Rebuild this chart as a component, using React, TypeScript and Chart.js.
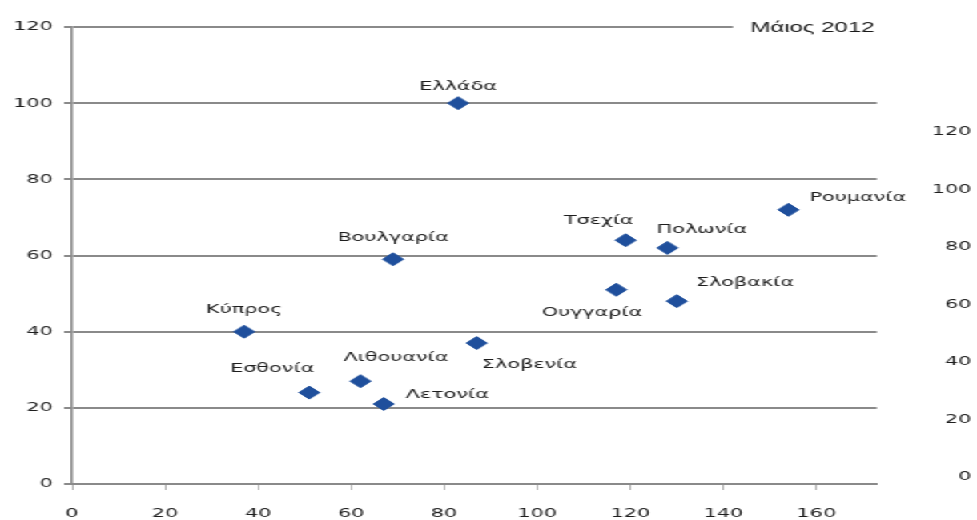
import React, { useEffect, useRef } from "react";
import { Chart, registerables } from "chart.js";

Chart.register(...registerables);

// ---- data ----
const countries = [
  "Ελλάδα",
  "Βουλγαρία",
  "Κύπρος",
  "Εσθονία",
  "Λιθουανία",
  "Λετονία",
  "Σλοβενία",
  "Ουγγαρία",
  "Σλοβακία",
  "Τσεχία",
  "Πολωνία",
  "Ρουμανία",
];
const xValues = [83, 69, 37, 51, 62, 67, 87, 117, 130, 119, 128, 154];
const yValues = [100, 59, 40, 24, 27, 21, 37, 51, 48, 64, 62, 72];
const xTickValues = [0, 20, 40, 60, 80, 100, 120, 140, 160];
const yTickValues = [0, 20, 40, 60, 80, 100, 120];
const rightTickValues = [0, 20, 40, 60, 80, 100, 120];
const titleText = "Μάιος 2012";

// ---- label placement (style only): align, dx (page px), dy (px) ----
const labelPlacement: [CanvasTextAlign, number, number][] = [
  ["center", 0, -17],
  ["center", 0, -22],
  ["center", 0, -22],
  ["right", 5, -24],
  ["left", -17, -24],
  ["left", 22, -9],
  ["left", 5, 22],
  ["right", 26, 23],
  ["left", 19, -19],
  ["right", 8, -20],
  ["left", -11, -18],
  ["left", 21, -12],
];

const PAGE_W = 977;
const INNER_W = 610;
const S = PAGE_W / INNER_W;
const FONT = "'DejaVu Sans', Verdana, sans-serif";
const GRID = "#8a8a8a";
const TEXT = "#1e1e1e";
const BLUE = "#1f4f9c";

const pointLabels = {
  id: "pointLabels",
  afterDatasetsDraw(chart: any) {
    const ctx = chart.ctx;
    const meta = chart.getDatasetMeta(0);
    ctx.save();
    ctx.font = `13px ${FONT}`;
    ctx.fillStyle = TEXT;
    ctx.textBaseline = "middle";
    meta.data.forEach((pt: any, i: number) => {
      const [align, dx, dy] = labelPlacement[i];
      ctx.textAlign = align;
      ctx.fillText(countries[i], pt.x + dx / S, pt.y + dy);
    });
    ctx.restore();
  },
};

const titleBox = {
  id: "titleBox",
  afterDraw(chart: any) {
    const ctx = chart.ctx;
    const area = chart.chartArea;
    ctx.save();
    ctx.fillStyle = "#ffffff";
    ctx.fillRect(733 / S, area.top - 14, area.right + 4 - 733 / S, 30);
    ctx.font = `15px 'Liberation Sans', Arial, sans-serif`;
    ctx.fillStyle = "#1a1a1a";
    ctx.textAlign = "center";
    ctx.textBaseline = "middle";
    ctx.fillText(titleText, 812.5 / S, area.top + 1);
    ctx.restore();
  },
};

export default function App() {
  const ref = useRef<HTMLCanvasElement | null>(null);

  useEffect(() => {
    if (!ref.current) return;
    const chart = new Chart(ref.current, {
      type: "scatter",
      data: {
        datasets: [
          {
            label: "data",
            data: xValues.map((x, i) => ({ x, y: yValues[i] })),
            pointStyle: "rectRot",
            pointRadius: 6.5,
            pointHoverRadius: 6.5,
            backgroundColor: BLUE,
            borderColor: BLUE,
            borderWidth: 1,
          },
        ],
      },
      options: {
        animation: false,
        responsive: true,
        maintainAspectRatio: false,
        events: [],
        layout: { padding: { top: 27, right: 3.5, bottom: 0, left: 0 } },
        plugins: {
          legend: { display: false },
          tooltip: { enabled: false },
          title: { display: false },
        },
        scales: {
          x: {
            type: "linear",
            position: "bottom",
            min: 0,
            max: 173,
            afterBuildTicks: (s: any) => {
              s.ticks = xTickValues.map((v) => ({ value: v }));
            },
            afterFit: (s: any) => {
              s.height = 36;
            },
            ticks: {
              color: TEXT,
              font: { family: FONT, size: 13 },
              padding: 16,
              maxRotation: 0,
            },
            grid: {
              drawOnChartArea: false,
              drawTicks: true,
              tickLength: 6,
              color: "#b0b0b0",
              lineWidth: 1,
            },
            border: { display: true, color: GRID, width: 2 },
          },
          y: {
            type: "linear",
            position: "left",
            min: 0,
            max: 120,
            afterBuildTicks: (s: any) => {
              s.ticks = yTickValues.map((v) => ({ value: v }));
            },
            afterFit: (s: any) => {
              s.width = 45;
            },
            ticks: {
              color: TEXT,
              font: { family: FONT, size: 13 },
              padding: 7,
            },
            grid: {
              color: GRID,
              lineWidth: 2,
              drawTicks: true,
              tickLength: 5,
            },
            border: { display: true, color: GRID, width: 1.5 },
          },
          y2: {
            type: "linear",
            position: "right",
            min: -2.4,
            max: 156.5,
            afterBuildTicks: (s: any) => {
              s.ticks = rightTickValues.map((v) => ({ value: v }));
            },
            afterFit: (s: any) => {
              s.width = 59;
            },
            ticks: {
              color: TEXT,
              font: { family: FONT, size: 13 },
              crossAlign: "far",
            },
            grid: { display: false },
            border: { display: false },
          },
        },
      },
      plugins: [pointLabels, titleBox],
    });
    return () => chart.destroy();
  }, []);

  return (
    <div
      style={{
        position: "absolute",
        left: 0,
        top: 0,
        width: INNER_W,
        height: 520,
        transform: `scaleX(${S})`,
        transformOrigin: "0 0",
        background: "#ffffff",
      }}
    >
      <canvas ref={ref} />
    </div>
  );
}
